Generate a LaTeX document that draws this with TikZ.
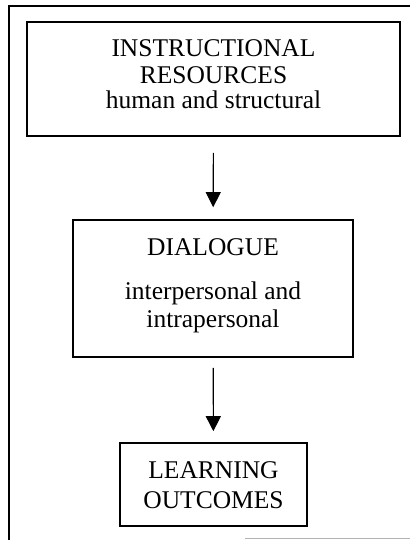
\documentclass[tikz,border=0pt]{standalone}
\usepackage{fontspec}
\setmainfont{Liberation Serif}
\usetikzlibrary{arrows.meta}
\tikzset{
  box/.style={draw, line width=1.6pt, inner sep=0pt},
  boxtext/.style={anchor=north, inner sep=0pt, align=center,
    font=\fontsize{25.5}{27}\selectfont},
  flow/.style={-{Triangle[width=15pt,length=15pt]}, line width=1.1pt},
  frame/.style={line width=1.3pt}
}
\begin{document}
\begin{tikzpicture}[x=1pt, y=-1pt]
  \useasboundingbox (0,0) rectangle (410,540);
  % outer frame of the figure
  \draw[frame] (9,540) -- (9,6) -- (410,6);
  \draw[gray!60, line width=0.8pt] (245,538) -- (410,538);
  % boxes
  \node (resources) at (213.5,79)   [box, minimum width=373pt, minimum height=114pt] {};
  \node (dialogue)  at (213,288.5)  [box, minimum width=280pt, minimum height=137pt] {};
  \node (outcomes)  at (213.5,484.5)[box, minimum width=187pt, minimum height=83pt] {};
  % texts
  \node (resources-txt) at (213.5,39) [boxtext] {INSTRUCTIONAL\\RESOURCES\\[-2pt]human and structural};
  \node (dialogue-txt)  at (213,238)  [boxtext] {DIALOGUE\\[17pt]interpersonal and\\[1pt]intrapersonal};
  \node (outcomes-txt)  at (213.5,461)[boxtext] {LEARNING\\[3pt]OUTCOMES};
  % arrows
  \draw[flow, shorten <=16pt, shorten >=12pt] (resources) -- (dialogue);
  \draw[flow, shorten <=10pt, shorten >=11pt] (dialogue) -- (outcomes);
\end{tikzpicture}
\end{document}
